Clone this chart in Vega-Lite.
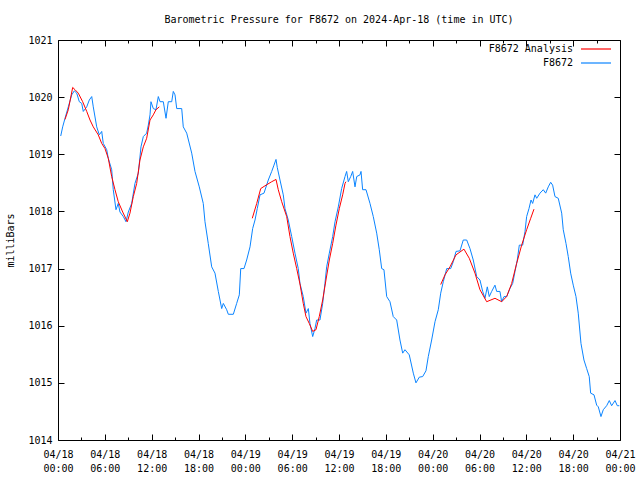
{
  "$schema": "https://vega.github.io/schema/vega-lite/v6.json",
  "width": 562,
  "height": 400,
  "autosize": {"type": "none"},
  "padding": {"left": 58, "top": 40, "right": 20, "bottom": 40},
  "background": "white",
  "title": {"text": "Barometric Pressure for F8672 on 2024-Apr-18 (time in UTC)", "font": "DejaVu Sans Mono", "fontSize": 10, "fontWeight": "normal", "color": "black", "offset": 10},
  "config": {
    "view": {"stroke": "black", "strokeWidth": 1},
    "axis": {"domain": false, "grid": false, "tickColor": "black", "labelColor": "black", "labelFont": "DejaVu Sans Mono", "labelFontSize": 10, "titleFont": "DejaVu Sans Mono", "titleFontSize": 10, "titleFontWeight": "normal", "titleColor": "black", "labelOverlap": false, "labelFlush": false}
  },
  "data": {"values": [
    {"series":"F8672","segment":"obs","hour":0.35,"pressure":1019.32},
    {"series":"F8672","segment":"obs","hour":0.60,"pressure":1019.48},
    {"series":"F8672","segment":"obs","hour":0.90,"pressure":1019.63},
    {"series":"F8672","segment":"obs","hour":1.32,"pressure":1019.83},
    {"series":"F8672","segment":"obs","hour":1.76,"pressure":1020.04},
    {"series":"F8672","segment":"obs","hour":2.09,"pressure":1020.11},
    {"series":"F8672","segment":"obs","hour":2.40,"pressure":1020.07},
    {"series":"F8672","segment":"obs","hour":2.73,"pressure":1019.92},
    {"series":"F8672","segment":"obs","hour":3.04,"pressure":1019.89},
    {"series":"F8672","segment":"obs","hour":3.24,"pressure":1019.75},
    {"series":"F8672","segment":"obs","hour":3.68,"pressure":1019.83},
    {"series":"F8672","segment":"obs","hour":4.01,"pressure":1019.95},
    {"series":"F8672","segment":"obs","hour":4.32,"pressure":1020.01},
    {"series":"F8672","segment":"obs","hour":4.52,"pressure":1019.83},
    {"series":"F8672","segment":"obs","hour":4.96,"pressure":1019.48},
    {"series":"F8672","segment":"obs","hour":5.29,"pressure":1019.34},
    {"series":"F8672","segment":"obs","hour":5.60,"pressure":1019.40},
    {"series":"F8672","segment":"obs","hour":5.80,"pressure":1019.19},
    {"series":"F8672","segment":"obs","hour":6.24,"pressure":1019.08},
    {"series":"F8672","segment":"obs","hour":6.44,"pressure":1018.93},
    {"series":"F8672","segment":"obs","hour":6.88,"pressure":1018.73},
    {"series":"F8672","segment":"obs","hour":7.08,"pressure":1018.38},
    {"series":"F8672","segment":"obs","hour":7.43,"pressure":1018.03},
    {"series":"F8672","segment":"obs","hour":7.72,"pressure":1018.14},
    {"series":"F8672","segment":"obs","hour":7.94,"pressure":1017.99},
    {"series":"F8672","segment":"obs","hour":8.37,"pressure":1017.91},
    {"series":"F8672","segment":"obs","hour":8.71,"pressure":1017.82},
    {"series":"F8672","segment":"obs","hour":9.01,"pressure":1017.99},
    {"series":"F8672","segment":"obs","hour":9.44,"pressure":1018.14},
    {"series":"F8672","segment":"obs","hour":9.86,"pressure":1018.49},
    {"series":"F8672","segment":"obs","hour":10.29,"pressure":1018.67},
    {"series":"F8672","segment":"obs","hour":10.63,"pressure":1019.13},
    {"series":"F8672","segment":"obs","hour":10.93,"pressure":1019.31},
    {"series":"F8672","segment":"obs","hour":11.36,"pressure":1019.37},
    {"series":"F8672","segment":"obs","hour":11.57,"pressure":1019.51},
    {"series":"F8672","segment":"obs","hour":11.79,"pressure":1019.69},
    {"series":"F8672","segment":"obs","hour":11.91,"pressure":1019.92},
    {"series":"F8672","segment":"obs","hour":12.21,"pressure":1019.80},
    {"series":"F8672","segment":"obs","hour":12.55,"pressure":1019.78},
    {"series":"F8672","segment":"obs","hour":12.85,"pressure":1020.01},
    {"series":"F8672","segment":"obs","hour":13.07,"pressure":1019.92},
    {"series":"F8672","segment":"obs","hour":13.49,"pressure":1019.92},
    {"series":"F8672","segment":"obs","hour":13.84,"pressure":1019.63},
    {"series":"F8672","segment":"obs","hour":14.13,"pressure":1019.92},
    {"series":"F8672","segment":"obs","hour":14.57,"pressure":1019.92},
    {"series":"F8672","segment":"obs","hour":14.77,"pressure":1020.10},
    {"series":"F8672","segment":"obs","hour":14.99,"pressure":1020.04},
    {"series":"F8672","segment":"obs","hour":15.21,"pressure":1019.80},
    {"series":"F8672","segment":"obs","hour":15.85,"pressure":1019.80},
    {"series":"F8672","segment":"obs","hour":16.05,"pressure":1019.48},
    {"series":"F8672","segment":"obs","hour":16.49,"pressure":1019.37},
    {"series":"F8672","segment":"obs","hour":17.13,"pressure":1019.02},
    {"series":"F8672","segment":"obs","hour":17.55,"pressure":1018.70},
    {"series":"F8672","segment":"obs","hour":18.10,"pressure":1018.43},
    {"series":"F8672","segment":"obs","hour":18.61,"pressure":1018.14},
    {"series":"F8672","segment":"obs","hour":18.83,"pressure":1017.82},
    {"series":"F8672","segment":"obs","hour":19.25,"pressure":1017.44},
    {"series":"F8672","segment":"obs","hour":19.69,"pressure":1017.03},
    {"series":"F8672","segment":"obs","hour":20.11,"pressure":1016.92},
    {"series":"F8672","segment":"obs","hour":20.54,"pressure":1016.60},
    {"series":"F8672","segment":"obs","hour":20.97,"pressure":1016.30},
    {"series":"F8672","segment":"obs","hour":21.18,"pressure":1016.39},
    {"series":"F8672","segment":"obs","hour":21.61,"pressure":1016.28},
    {"series":"F8672","segment":"obs","hour":21.82,"pressure":1016.20},
    {"series":"F8672","segment":"obs","hour":22.46,"pressure":1016.20},
    {"series":"F8672","segment":"obs","hour":22.89,"pressure":1016.39},
    {"series":"F8672","segment":"obs","hour":23.23,"pressure":1016.54},
    {"series":"F8672","segment":"obs","hour":23.41,"pressure":1017.00},
    {"series":"F8672","segment":"obs","hour":23.83,"pressure":1017.00},
    {"series":"F8672","segment":"obs","hour":24.17,"pressure":1017.15},
    {"series":"F8672","segment":"obs","hour":24.60,"pressure":1017.38},
    {"series":"F8672","segment":"obs","hour":24.94,"pressure":1017.70},
    {"series":"F8672","segment":"obs","hour":25.24,"pressure":1017.85},
    {"series":"F8672","segment":"obs","hour":25.53,"pressure":1018.05},
    {"series":"F8672","segment":"obs","hour":25.88,"pressure":1018.29},
    {"series":"F8672","segment":"obs","hour":26.39,"pressure":1018.32},
    {"series":"F8672","segment":"obs","hour":26.94,"pressure":1018.55},
    {"series":"F8672","segment":"obs","hour":27.38,"pressure":1018.70},
    {"series":"F8672","segment":"obs","hour":27.67,"pressure":1018.81},
    {"series":"F8672","segment":"obs","hour":27.93,"pressure":1018.91},
    {"series":"F8672","segment":"obs","hour":28.09,"pressure":1018.77},
    {"series":"F8672","segment":"obs","hour":28.44,"pressure":1018.55},
    {"series":"F8672","segment":"obs","hour":28.86,"pressure":1018.29},
    {"series":"F8672","segment":"obs","hour":29.08,"pressure":1018.05},
    {"series":"F8672","segment":"obs","hour":29.50,"pressure":1017.85},
    {"series":"F8672","segment":"obs","hour":29.94,"pressure":1017.56},
    {"series":"F8672","segment":"obs","hour":30.36,"pressure":1017.27},
    {"series":"F8672","segment":"obs","hour":30.78,"pressure":1017.00},
    {"series":"F8672","segment":"obs","hour":31.00,"pressure":1016.74},
    {"series":"F8672","segment":"obs","hour":31.42,"pressure":1016.51},
    {"series":"F8672","segment":"obs","hour":31.77,"pressure":1016.22},
    {"series":"F8672","segment":"obs","hour":32.07,"pressure":1016.30},
    {"series":"F8672","segment":"obs","hour":32.28,"pressure":1016.04},
    {"series":"F8672","segment":"obs","hour":32.63,"pressure":1015.81},
    {"series":"F8672","segment":"obs","hour":32.92,"pressure":1015.95},
    {"series":"F8672","segment":"obs","hour":33.14,"pressure":1016.10},
    {"series":"F8672","segment":"obs","hour":33.56,"pressure":1016.10},
    {"series":"F8672","segment":"obs","hour":33.91,"pressure":1016.39},
    {"series":"F8672","segment":"obs","hour":34.20,"pressure":1016.74},
    {"series":"F8672","segment":"obs","hour":34.42,"pressure":1017.03},
    {"series":"F8672","segment":"obs","hour":34.76,"pressure":1017.27},
    {"series":"F8672","segment":"obs","hour":35.19,"pressure":1017.56},
    {"series":"F8672","segment":"obs","hour":35.49,"pressure":1017.82},
    {"series":"F8672","segment":"obs","hour":35.91,"pressure":1018.08},
    {"series":"F8672","segment":"obs","hour":36.34,"pressure":1018.40},
    {"series":"F8672","segment":"obs","hour":36.77,"pressure":1018.61},
    {"series":"F8672","segment":"obs","hour":36.98,"pressure":1018.70},
    {"series":"F8672","segment":"obs","hour":37.19,"pressure":1018.52},
    {"series":"F8672","segment":"obs","hour":37.50,"pressure":1018.61},
    {"series":"F8672","segment":"obs","hour":37.75,"pressure":1018.70},
    {"series":"F8672","segment":"obs","hour":38.05,"pressure":1018.43},
    {"series":"F8672","segment":"obs","hour":38.27,"pressure":1018.61},
    {"series":"F8672","segment":"obs","hour":38.69,"pressure":1018.64},
    {"series":"F8672","segment":"obs","hour":38.82,"pressure":1018.70},
    {"series":"F8672","segment":"obs","hour":39.03,"pressure":1018.38},
    {"series":"F8672","segment":"obs","hour":39.46,"pressure":1018.38},
    {"series":"F8672","segment":"obs","hour":39.97,"pressure":1018.14},
    {"series":"F8672","segment":"obs","hour":40.39,"pressure":1017.91},
    {"series":"F8672","segment":"obs","hour":40.83,"pressure":1017.62},
    {"series":"F8672","segment":"obs","hour":41.16,"pressure":1017.33},
    {"series":"F8672","segment":"obs","hour":41.47,"pressure":1017.00},
    {"series":"F8672","segment":"obs","hour":41.76,"pressure":1016.98},
    {"series":"F8672","segment":"obs","hour":42.11,"pressure":1016.51},
    {"series":"F8672","segment":"obs","hour":42.53,"pressure":1016.42},
    {"series":"F8672","segment":"obs","hour":42.95,"pressure":1016.16},
    {"series":"F8672","segment":"obs","hour":43.39,"pressure":1016.10},
    {"series":"F8672","segment":"obs","hour":43.81,"pressure":1015.75},
    {"series":"F8672","segment":"obs","hour":44.16,"pressure":1015.52},
    {"series":"F8672","segment":"obs","hour":44.45,"pressure":1015.58},
    {"series":"F8672","segment":"obs","hour":45.00,"pressure":1015.49},
    {"series":"F8672","segment":"obs","hour":45.52,"pressure":1015.17},
    {"series":"F8672","segment":"obs","hour":45.86,"pressure":1015.00},
    {"series":"F8672","segment":"obs","hour":46.29,"pressure":1015.10},
    {"series":"F8672","segment":"obs","hour":46.72,"pressure":1015.11},
    {"series":"F8672","segment":"obs","hour":47.14,"pressure":1015.21},
    {"series":"F8672","segment":"obs","hour":47.44,"pressure":1015.46},
    {"series":"F8672","segment":"obs","hour":47.87,"pressure":1015.75},
    {"series":"F8672","segment":"obs","hour":48.30,"pressure":1016.07},
    {"series":"F8672","segment":"obs","hour":48.72,"pressure":1016.28},
    {"series":"F8672","segment":"obs","hour":49.03,"pressure":1016.57},
    {"series":"F8672","segment":"obs","hour":49.36,"pressure":1016.77},
    {"series":"F8672","segment":"obs","hour":49.80,"pressure":1017.00},
    {"series":"F8672","segment":"obs","hour":50.31,"pressure":1017.00},
    {"series":"F8672","segment":"obs","hour":50.64,"pressure":1017.12},
    {"series":"F8672","segment":"obs","hour":50.99,"pressure":1017.30},
    {"series":"F8672","segment":"obs","hour":51.50,"pressure":1017.31},
    {"series":"F8672","segment":"obs","hour":51.92,"pressure":1017.50},
    {"series":"F8672","segment":"obs","hour":52.36,"pressure":1017.50},
    {"series":"F8672","segment":"obs","hour":52.78,"pressure":1017.35},
    {"series":"F8672","segment":"obs","hour":53.20,"pressure":1017.15},
    {"series":"F8672","segment":"obs","hour":53.64,"pressure":1016.86},
    {"series":"F8672","segment":"obs","hour":54.06,"pressure":1016.80},
    {"series":"F8672","segment":"obs","hour":54.41,"pressure":1016.60},
    {"series":"F8672","segment":"obs","hour":54.70,"pressure":1016.48},
    {"series":"F8672","segment":"obs","hour":55.00,"pressure":1016.68},
    {"series":"F8672","segment":"obs","hour":55.25,"pressure":1016.51},
    {"series":"F8672","segment":"obs","hour":55.56,"pressure":1016.60},
    {"series":"F8672","segment":"obs","hour":55.98,"pressure":1016.71},
    {"series":"F8672","segment":"obs","hour":56.20,"pressure":1016.60},
    {"series":"F8672","segment":"obs","hour":56.62,"pressure":1016.60},
    {"series":"F8672","segment":"obs","hour":56.84,"pressure":1016.42},
    {"series":"F8672","segment":"obs","hour":57.14,"pressure":1016.51},
    {"series":"F8672","segment":"obs","hour":57.48,"pressure":1016.51},
    {"series":"F8672","segment":"obs","hour":57.90,"pressure":1016.65},
    {"series":"F8672","segment":"obs","hour":58.25,"pressure":1016.74},
    {"series":"F8672","segment":"obs","hour":58.55,"pressure":1016.95},
    {"series":"F8672","segment":"obs","hour":58.84,"pressure":1017.15},
    {"series":"F8672","segment":"obs","hour":59.10,"pressure":1017.41},
    {"series":"F8672","segment":"obs","hour":59.53,"pressure":1017.41},
    {"series":"F8672","segment":"obs","hour":59.83,"pressure":1017.65},
    {"series":"F8672","segment":"obs","hour":60.04,"pressure":1017.91},
    {"series":"F8672","segment":"obs","hour":60.34,"pressure":1018.05},
    {"series":"F8672","segment":"obs","hour":60.60,"pressure":1018.20},
    {"series":"F8672","segment":"obs","hour":60.81,"pressure":1018.14},
    {"series":"F8672","segment":"obs","hour":61.11,"pressure":1018.29},
    {"series":"F8672","segment":"obs","hour":61.33,"pressure":1018.23},
    {"series":"F8672","segment":"obs","hour":61.75,"pressure":1018.32},
    {"series":"F8672","segment":"obs","hour":62.17,"pressure":1018.38},
    {"series":"F8672","segment":"obs","hour":62.48,"pressure":1018.32},
    {"series":"F8672","segment":"obs","hour":62.81,"pressure":1018.43},
    {"series":"F8672","segment":"obs","hour":63.12,"pressure":1018.51},
    {"series":"F8672","segment":"obs","hour":63.37,"pressure":1018.46},
    {"series":"F8672","segment":"obs","hour":63.67,"pressure":1018.26},
    {"series":"F8672","segment":"obs","hour":64.09,"pressure":1018.23},
    {"series":"F8672","segment":"obs","hour":64.53,"pressure":1017.97},
    {"series":"F8672","segment":"obs","hour":64.73,"pressure":1017.68},
    {"series":"F8672","segment":"obs","hour":65.08,"pressure":1017.44},
    {"series":"F8672","segment":"obs","hour":65.37,"pressure":1017.21},
    {"series":"F8672","segment":"obs","hour":65.68,"pressure":1016.92},
    {"series":"F8672","segment":"obs","hour":66.01,"pressure":1016.71},
    {"series":"F8672","segment":"obs","hour":66.36,"pressure":1016.51},
    {"series":"F8672","segment":"obs","hour":66.65,"pressure":1016.22},
    {"series":"F8672","segment":"obs","hour":67.00,"pressure":1015.69},
    {"series":"F8672","segment":"obs","hour":67.38,"pressure":1015.40},
    {"series":"F8672","segment":"obs","hour":67.73,"pressure":1015.25},
    {"series":"F8672","segment":"obs","hour":68.06,"pressure":1015.11},
    {"series":"F8672","segment":"obs","hour":68.24,"pressure":1014.82},
    {"series":"F8672","segment":"obs","hour":68.67,"pressure":1014.79},
    {"series":"F8672","segment":"obs","hour":69.01,"pressure":1014.61},
    {"series":"F8672","segment":"obs","hour":69.22,"pressure":1014.58},
    {"series":"F8672","segment":"obs","hour":69.56,"pressure":1014.41},
    {"series":"F8672","segment":"obs","hour":69.86,"pressure":1014.53},
    {"series":"F8672","segment":"obs","hour":70.29,"pressure":1014.60},
    {"series":"F8672","segment":"obs","hour":70.63,"pressure":1014.69},
    {"series":"F8672","segment":"obs","hour":70.93,"pressure":1014.60},
    {"series":"F8672","segment":"obs","hour":71.36,"pressure":1014.69},
    {"series":"F8672","segment":"obs","hour":71.65,"pressure":1014.60},
    {"series":"F8672","segment":"obs","hour":71.91,"pressure":1014.60},
    {"series":"F8672 Analysis","segment":"a1","hour":0.90,"pressure":1019.61},
    {"series":"F8672 Analysis","segment":"a1","hour":1.32,"pressure":1019.78},
    {"series":"F8672 Analysis","segment":"a1","hour":1.88,"pressure":1020.17},
    {"series":"F8672 Analysis","segment":"a1","hour":2.18,"pressure":1020.13},
    {"series":"F8672 Analysis","segment":"a1","hour":2.60,"pressure":1020.07},
    {"series":"F8672 Analysis","segment":"a1","hour":3.16,"pressure":1019.92},
    {"series":"F8672 Analysis","segment":"a1","hour":3.68,"pressure":1019.75},
    {"series":"F8672 Analysis","segment":"a1","hour":4.10,"pressure":1019.60},
    {"series":"F8672 Analysis","segment":"a1","hour":4.52,"pressure":1019.48},
    {"series":"F8672 Analysis","segment":"a1","hour":5.16,"pressure":1019.34},
    {"series":"F8672 Analysis","segment":"a1","hour":5.60,"pressure":1019.19},
    {"series":"F8672 Analysis","segment":"a1","hour":6.02,"pressure":1019.10},
    {"series":"F8672 Analysis","segment":"a1","hour":6.44,"pressure":1018.93},
    {"series":"F8672 Analysis","segment":"a1","hour":6.88,"pressure":1018.61},
    {"series":"F8672 Analysis","segment":"a1","hour":7.30,"pressure":1018.38},
    {"series":"F8672 Analysis","segment":"a1","hour":7.72,"pressure":1018.17},
    {"series":"F8672 Analysis","segment":"a1","hour":8.29,"pressure":1017.99},
    {"series":"F8672 Analysis","segment":"a1","hour":8.88,"pressure":1017.82},
    {"series":"F8672 Analysis","segment":"a1","hour":9.22,"pressure":1017.97},
    {"series":"F8672 Analysis","segment":"a1","hour":9.65,"pressure":1018.26},
    {"series":"F8672 Analysis","segment":"a1","hour":10.08,"pressure":1018.49},
    {"series":"F8672 Analysis","segment":"a1","hour":10.50,"pressure":1018.90},
    {"series":"F8672 Analysis","segment":"a1","hour":10.93,"pressure":1019.13},
    {"series":"F8672 Analysis","segment":"a1","hour":11.36,"pressure":1019.28},
    {"series":"F8672 Analysis","segment":"a1","hour":11.79,"pressure":1019.60},
    {"series":"F8672 Analysis","segment":"a1","hour":12.21,"pressure":1019.69},
    {"series":"F8672 Analysis","segment":"a1","hour":12.55,"pressure":1019.78},
    {"series":"F8672 Analysis","segment":"a1","hour":12.98,"pressure":1019.83},
    {"series":"F8672 Analysis","segment":"a2","hour":24.89,"pressure":1017.88},
    {"series":"F8672 Analysis","segment":"a2","hour":25.46,"pressure":1018.14},
    {"series":"F8672 Analysis","segment":"a2","hour":25.97,"pressure":1018.40},
    {"series":"F8672 Analysis","segment":"a2","hour":26.65,"pressure":1018.46},
    {"series":"F8672 Analysis","segment":"a2","hour":27.38,"pressure":1018.52},
    {"series":"F8672 Analysis","segment":"a2","hour":27.93,"pressure":1018.56},
    {"series":"F8672 Analysis","segment":"a2","hour":28.22,"pressure":1018.38},
    {"series":"F8672 Analysis","segment":"a2","hour":28.66,"pressure":1018.17},
    {"series":"F8672 Analysis","segment":"a2","hour":29.30,"pressure":1017.91},
    {"series":"F8672 Analysis","segment":"a2","hour":29.72,"pressure":1017.56},
    {"series":"F8672 Analysis","segment":"a2","hour":30.14,"pressure":1017.27},
    {"series":"F8672 Analysis","segment":"a2","hour":30.58,"pressure":1017.00},
    {"series":"F8672 Analysis","segment":"a2","hour":31.00,"pressure":1016.73},
    {"series":"F8672 Analysis","segment":"a2","hour":31.42,"pressure":1016.39},
    {"series":"F8672 Analysis","segment":"a2","hour":31.77,"pressure":1016.16},
    {"series":"F8672 Analysis","segment":"a2","hour":32.19,"pressure":1016.04},
    {"series":"F8672 Analysis","segment":"a2","hour":32.63,"pressure":1015.90},
    {"series":"F8672 Analysis","segment":"a2","hour":33.05,"pressure":1015.93},
    {"series":"F8672 Analysis","segment":"a2","hour":33.47,"pressure":1016.16},
    {"series":"F8672 Analysis","segment":"a2","hour":33.91,"pressure":1016.45},
    {"series":"F8672 Analysis","segment":"a2","hour":34.33,"pressure":1016.80},
    {"series":"F8672 Analysis","segment":"a2","hour":34.76,"pressure":1017.15},
    {"series":"F8672 Analysis","segment":"a2","hour":35.19,"pressure":1017.44},
    {"series":"F8672 Analysis","segment":"a2","hour":35.61,"pressure":1017.76},
    {"series":"F8672 Analysis","segment":"a2","hour":36.04,"pressure":1018.05},
    {"series":"F8672 Analysis","segment":"a2","hour":36.47,"pressure":1018.29},
    {"series":"F8672 Analysis","segment":"a2","hour":36.77,"pressure":1018.49},
    {"series":"F8672 Analysis","segment":"a2","hour":36.89,"pressure":1018.52},
    {"series":"F8672 Analysis","segment":"a3","hour":49.03,"pressure":1016.72},
    {"series":"F8672 Analysis","segment":"a3","hour":49.58,"pressure":1016.89},
    {"series":"F8672 Analysis","segment":"a3","hour":50.22,"pressure":1017.03},
    {"series":"F8672 Analysis","segment":"a3","hour":50.99,"pressure":1017.24},
    {"series":"F8672 Analysis","segment":"a3","hour":52.01,"pressure":1017.34},
    {"series":"F8672 Analysis","segment":"a3","hour":52.69,"pressure":1017.18},
    {"series":"F8672 Analysis","segment":"a3","hour":53.42,"pressure":1016.92},
    {"series":"F8672 Analysis","segment":"a3","hour":54.06,"pressure":1016.63},
    {"series":"F8672 Analysis","segment":"a3","hour":54.92,"pressure":1016.42},
    {"series":"F8672 Analysis","segment":"a3","hour":55.98,"pressure":1016.48},
    {"series":"F8672 Analysis","segment":"a3","hour":56.84,"pressure":1016.42},
    {"series":"F8672 Analysis","segment":"a3","hour":57.48,"pressure":1016.51},
    {"series":"F8672 Analysis","segment":"a3","hour":58.12,"pressure":1016.74},
    {"series":"F8672 Analysis","segment":"a3","hour":58.76,"pressure":1017.09},
    {"series":"F8672 Analysis","segment":"a3","hour":59.40,"pressure":1017.41},
    {"series":"F8672 Analysis","segment":"a3","hour":60.04,"pressure":1017.68},
    {"series":"F8672 Analysis","segment":"a3","hour":60.56,"pressure":1017.88},
    {"series":"F8672 Analysis","segment":"a3","hour":60.98,"pressure":1018.04}
  ]},
  "layer": [
    {
      "mark": {"type": "line", "strokeWidth": 1, "opacity": 0},
      "encoding": {
        "x": {"field": "hour", "type": "quantitative", "scale": {"domain": [0, 72], "nice": false, "zero": false},
          "axis": {"orient": "top", "values": [0,3,6,9,12,15,18,21,24,27,30,33,36,39,42,45,48,51,54,57,60,63,66,69,72], "labels": false, "title": null,
            "tickSize": {"condition": {"test": "datum.value % 6 == 0", "value": -6}, "value": -3}}},
        "y": {"field": "pressure", "type": "quantitative", "scale": {"domain": [1014, 1021], "nice": false, "zero": false},
          "axis": {"orient": "right", "values": [1014,1015,1016,1017,1018,1019,1020,1021], "labels": false, "title": null, "tickSize": -6}},
        "detail": {"field": "segment"}
      }
    },
    {
      "mark": {"type": "line", "strokeWidth": 1},
      "encoding": {
        "x": {"field": "hour", "type": "quantitative", "scale": {"domain": [0, 72], "nice": false, "zero": false},
          "axis": {"orient": "bottom", "values": [0,3,6,9,12,15,18,21,24,27,30,33,36,39,42,45,48,51,54,57,60,63,66,69,72], "title": null,
            "labelExpr": "datum.value % 6 == 0 ? ['04/' + (18 + floor(datum.value / 24)), (datum.value % 24 < 10 ? '0' : '') + (datum.value % 24) + ':00'] : ''",
            "labelBaseline": "top", "labelLineHeight": 14, "labelPadding": 15,
            "tickSize": {"condition": {"test": "datum.value % 6 == 0", "value": -6}, "value": -3}}},
        "y": {"field": "pressure", "type": "quantitative", "scale": {"domain": [1014, 1021], "nice": false, "zero": false},
          "axis": {"orient": "left", "values": [1014,1015,1016,1017,1018,1019,1020,1021], "format": "d", "title": "milliBars", "tickSize": -6, "labelPadding": 12, "titlePadding": 12}},
        "color": {"field": "series", "type": "nominal",
          "scale": {"domain": ["F8672 Analysis", "F8672"], "range": ["#ff0000", "#0a84ff"]},
          "legend": {"title": null, "orient": "none", "legendX": 531, "legendY": 2, "symbolType": "M-2.5,0H2.5", "symbolSize": 144, "symbolStrokeWidth": 1.2,
            "labelFont": "DejaVu Sans Mono", "labelFontSize": 10, "labelColor": "black", "labelAlign": "right", "labelOffset": -30, "rowPadding": 2}},
        "detail": {"field": "segment"}
      }
    }
  ],
  "resolve": {"axis": {"x": "independent", "y": "independent"}}
}
